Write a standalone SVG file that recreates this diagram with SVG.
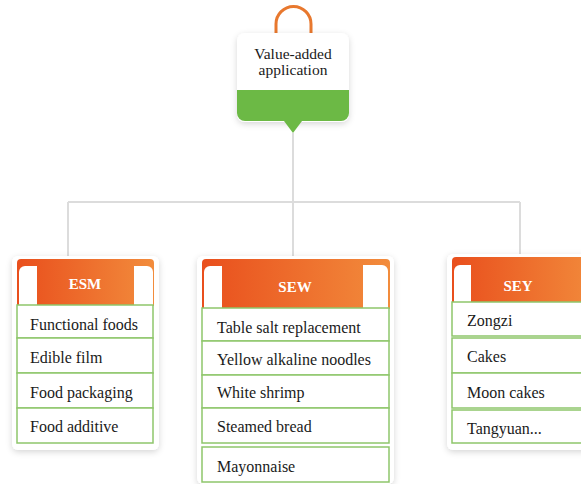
<svg xmlns="http://www.w3.org/2000/svg" width="581" height="484" viewBox="0 0 581 484">
<defs>
  <linearGradient id="og" x1="0" y1="0" x2="1" y2="0">
    <stop offset="0" stop-color="#e94f1d"/>
    <stop offset="1" stop-color="#f28c3c"/>
  </linearGradient>
  <filter id="sh" x="-20%" y="-20%" width="140%" height="140%">
    <feDropShadow dx="0" dy="2" stdDeviation="3" flood-color="#000" flood-opacity="0.16"/>
  </filter>
  <style>
    .conn{fill:none;stroke:#dcdcdc;stroke-width:2}
    .card{fill:#fff;filter:url(#sh)}
    .hdr{fill:url(#og)}
    .tab{fill:#fff}
    .row{fill:#fff;stroke:#8ec66b;stroke-width:1.5}
    text{font-family:'Liberation Serif','Times New Roman','DejaVu Serif',serif}
    .ht{font-weight:bold;font-size:15px;fill:#fff;text-anchor:middle}
    .it{font-size:16px;fill:#1a1a1a}
    .tt{font-size:15.5px;fill:#1a1a1a;text-anchor:middle}
  </style>
</defs>
<rect width="581" height="484" fill="#fff"/>
<g id="connectors">
  <path class="conn" d="M293,133 V259"/>
  <path class="conn" d="M68,202 H520"/>
  <path class="conn" d="M68,202 V259"/>
  <path class="conn" d="M520,202 V257"/>
</g>
<g id="root">
  <path d="M276,35 V24 A17,17 0 0 1 311,24 V35" fill="none" stroke="#e8782e" stroke-width="3"/>
  <rect class="card" x="237" y="33" width="112" height="89" rx="8"/>
  <path d="M237,90 H349 V113 A8,8 0 0 1 341,121 H245 A8,8 0 0 1 237,113 Z" fill="#6cb945"/>
  <path d="M284,121 H302 L293,133 Z" fill="#6cb945"/>
  <text class="tt" x="293" y="59">Value-added</text>
  <text class="tt" x="293" y="75">application</text>
</g>
<g id="esm">
  <rect class="card" x="12" y="256" width="147" height="194" rx="6"/>
  <path class="hdr" d="M17,306 V263 A4,4 0 0 1 21,259 H150 A4,4 0 0 1 154,263 V306 Z"/>
  <path class="tab" d="M19,306 V272 A6,6 0 0 1 25,266 H37 V306 Z"/>
  <path class="tab" d="M134,306 V266 H147 A6,6 0 0 1 153,272 V306 Z"/>
  <text class="ht" x="85" y="289">ESM</text>
  <rect class="row" x="17" y="305" width="136" height="33"/>
  <rect class="row" x="17" y="338" width="136" height="35"/>
  <rect class="row" x="17" y="373" width="136" height="35"/>
  <rect class="row" x="17" y="408" width="136" height="35"/>
  <text class="it" x="30" y="330">Functional foods</text>
  <text class="it" x="30" y="363">Edible film</text>
  <text class="it" x="30" y="398">Food packaging</text>
  <text class="it" x="30" y="432">Food additive</text>
</g>
<g id="sew">
  <rect class="card" x="197" y="256" width="197" height="228" rx="6"/>
  <path class="hdr" d="M202,309 V263 A4,4 0 0 1 206,259 H386 A4,4 0 0 1 390,263 V309 Z"/>
  <path class="tab" d="M204,309 V272 A6,6 0 0 1 210,266 H222 V309 Z"/>
  <path class="tab" d="M363,309 V265 H382 A6,6 0 0 1 388,271 V309 Z"/>
  <text class="ht" x="295" y="292">SEW</text>
  <rect class="row" x="202" y="308" width="187" height="33"/>
  <rect class="row" x="202" y="341" width="187" height="34"/>
  <rect class="row" x="202" y="375" width="187" height="33"/>
  <rect class="row" x="202" y="408" width="187" height="35"/>
  <rect class="row" x="202" y="447" width="187" height="35"/>
  <text class="it" x="217" y="333">Table salt replacement</text>
  <text class="it" x="217" y="365">Yellow alkaline noodles</text>
  <text class="it" x="217" y="398">White shrimp</text>
  <text class="it" x="217" y="432">Steamed bread</text>
  <text class="it" x="217" y="472">Mayonnaise</text>
</g>
<g id="sey">
  <rect class="card" x="447" y="254" width="150" height="196" rx="6"/>
  <path class="hdr" d="M452,303 V261 A4,4 0 0 1 456,257 H600 V303 Z"/>
  <path class="tab" d="M454,303 V271 A6,6 0 0 1 460,265 H471 V303 Z"/>
  <text class="ht" x="518" y="291">SEY</text>
  <rect class="row" x="452" y="302" width="140" height="34"/>
  <rect class="row" x="452" y="338" width="140" height="35"/>
  <rect class="row" x="452" y="373" width="140" height="35"/>
  <rect class="row" x="452" y="410" width="140" height="33"/>
  <text class="it" x="467" y="326">Zongzi</text>
  <text class="it" x="467" y="362">Cakes</text>
  <text class="it" x="467" y="398">Moon cakes</text>
  <text class="it" x="467" y="434">Tangyuan...</text>
</g>
</svg>
